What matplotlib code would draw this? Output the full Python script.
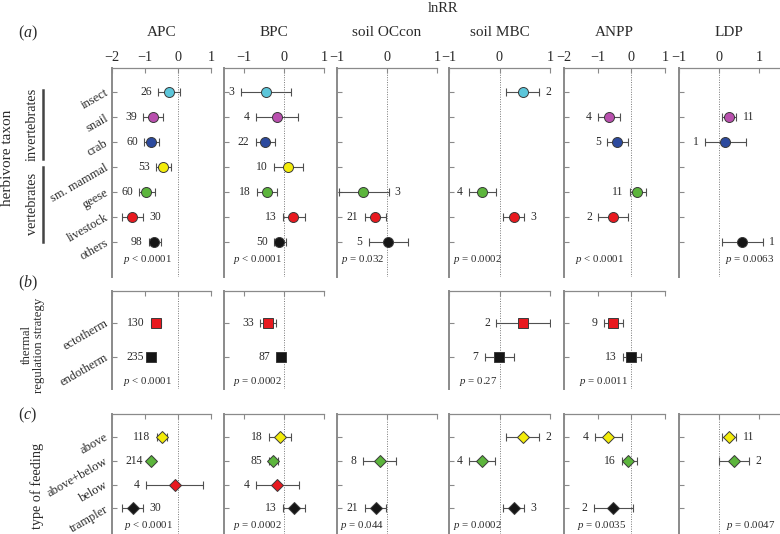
import matplotlib
matplotlib.use('Agg')
import matplotlib.pyplot as plt
from matplotlib.lines import Line2D

plt.rcParams['font.family'] = ['Liberation Serif', 'DejaVu Serif']
plt.rcParams['mathtext.fontset'] = 'custom'
plt.rcParams['mathtext.it'] = 'Liberation Serif:italic'
plt.rcParams['mathtext.rm'] = 'Liberation Serif'

# ---------------- data ----------------
responses = ['APC', 'BPC', 'soil OCcon', 'soil MBC', 'ANPP', 'LDP']
xlims = [(-2, 1), (-1.5, 1), (-1, 1), (-1, 1), (-2, 1), (-1, 1.5)]
xticks = [[-2, -1, 0, 1], [-1, 0, 1], [-1, 0, 1], [-1, 0, 1], [-2, -1, 0, 1], [-1, 0, 1]]

taxa = ['insect', 'snail', 'crab', 'sm. mammal', 'geese', 'livestock', 'others']
taxa_colors = ['#5cc6da', '#b94fae', '#2c4a9e', '#f3ec0a', '#5cb53c', '#e8191f', '#151515']
thermal = ['ectotherm', 'endotherm']
thermal_colors = ['#e8191f', '#151515']
feeding = ['above', 'above+below', 'below', 'trampler']
feeding_colors = ['#f3ec0a', '#5cb53c', '#e8191f', '#151515']

# (mean, lower CI, upper CI, n)
apc_taxon = [(-0.28, -0.61, 0.05, 26), (-0.76, -1.05, -0.46, 39), (-0.83, -1.02, -0.59, 60),
             (-0.44, -0.66, -0.21, 53), (-0.96, -1.17, -0.71, 60), (-1.39, -1.69, -1.07, 30),
             (-0.72, -0.89, -0.53, 98)]
bpc_taxon = [(-0.46, -1.08, 0.17, 3), (-0.18, -0.71, 0.36, 4), (-0.48, -0.71, -0.22, 22),
             (0.11, -0.25, 0.48, 10), (-0.43, -0.68, -0.18, 18), (0.23, -0.03, 0.53, 13),
             (-0.12, -0.25, 0.05, 50)]
occ_taxon = [None, None, None, None, (-0.48, -0.97, 0.03, 3), (-0.25, -0.45, -0.02, 21),
             (0.02, -0.37, 0.42, 5)]
mbc_taxon = [(0.46, 0.13, 0.78, 2), None, None, None, (-0.34, -0.60, -0.07, 4),
             (0.28, 0.06, 0.49, 3), None]
anpp_taxon = [None, (-0.67, -0.98, -0.34, 4), (-0.42, -0.72, -0.09, 5), None,
              (0.18, -0.05, 0.43, 11), (-0.54, -0.98, -0.09, 2), None]
ldp_taxon = [None, (0.25, 0.08, 0.43, 11), (0.16, -0.36, 0.68, 1), None, None, None,
             (0.58, 0.08, 1.10, 1)]

apc_thermal = [(-0.68, -0.81, -0.53, 130), (-0.81, -0.85, -0.77, 235)]
bpc_thermal = [(-0.39, -0.60, -0.20, 33), (-0.08, -0.18, 0.03, 87)]
mbc_thermal = [(0.46, -0.07, 1.00, 2), (-0.01, -0.29, 0.28, 7)]
anpp_thermal = [(-0.54, -0.82, -0.25, 9), (0.00, -0.25, 0.28, 13)]

apc_feeding = [(-0.49, -0.64, -0.34, 118), (-0.81, -0.86, -0.76, 214),
               (-0.09, -0.96, 0.75, 4), (-1.37, -1.69, -1.07, 30)]
bpc_feeding = [(-0.10, -0.37, 0.17, 18), (-0.28, -0.38, -0.16, 85),
               (-0.18, -0.71, 0.38, 4), (0.24, -0.03, 0.53, 13)]
occ_feeding = [None, (-0.15, -0.49, 0.17, 8), None, (-0.23, -0.45, -0.02, 21)]
mbc_feeding = [(0.46, 0.13, 0.78, 2), (-0.34, -0.60, -0.08, 4), None, (0.28, 0.06, 0.49, 3)]
anpp_feeding = [(-0.69, -1.09, -0.27, 4), (-0.09, -0.29, 0.18, 16), None, (-0.55, -1.12, 0.05, 2)]
ldp_feeding = [(0.24, 0.08, 0.43, 11), (0.37, 0.00, 0.75, 2), None, None]

p_taxon = ['< 0.0001', '< 0.0001', '= 0.032', '= 0.0002', '< 0.0001', '= 0.0063']
p_thermal = ['< 0.0001', '= 0.0002', None, '= 0.27', '= 0.0011', None]
p_feeding = ['< 0.0001', '= 0.0002', '= 0.044', '= 0.0002', '= 0.0035', '= 0.0047']

taxon_data = [apc_taxon, bpc_taxon, occ_taxon, mbc_taxon, anpp_taxon, ldp_taxon]
thermal_data = [apc_thermal, bpc_thermal, None, mbc_thermal, anpp_thermal, None]
feeding_data = [apc_feeding, bpc_feeding, occ_feeding, mbc_feeding, anpp_feeding, ldp_feeding]

# ---------------- layout (pixels) ----------------
W, H = 780, 534
fig = plt.figure(figsize=(W / 100, H / 100), dpi=100)

panel_x = [(112, 211), (224, 324), (337, 437), (449, 550), (564, 665), (679, 779)]
groups = [
    dict(data=taxon_data, cats=taxa, colors=taxa_colors, marker='o', ms=7.2,
         top=68, bottom=277, ylim=(7.4, -0.97), p=p_taxon, py=259,
         px=[123, 233, 341, 453, 575, 725], first=True,
         right={(0, 5), (2, 4), (3, 0), (3, 5), (5, 1), (5, 6)}),
    dict(data=thermal_data, cats=thermal, colors=thermal_colors, marker='s', ms=6.5,
         top=291, bottom=389, ylim=(1.95, -0.94), p=p_thermal, py=381,
         px=[123, 233, None, 459, 579, None], first=False, right=set()),
    dict(data=feeding_data, cats=feeding, colors=feeding_colors, marker='D', ms=6.6,
         top=414, bottom=534, ylim=(4.07, -0.95), p=p_feeding, py=526,
         px=[124, 233, 340, 453, 577, 726], first=False,
         right={(0, 3), (3, 0), (3, 3), (5, 0), (5, 1)}),
]

spine_col = '#8a8a8a'
txt_col = '#2a2a2a'

def fx(x):
    return x / W

def fy(y):
    return 1 - y / H

for g in groups:
    for i in range(6):
        d = g['data'][i]
        if d is None:
            continue
        x0, x1 = panel_x[i]
        ax = fig.add_axes([fx(x0), fy(g['bottom']), (x1 - x0) / W, (g['bottom'] - g['top']) / H])
        ax.set_xlim(*xlims[i])
        ax.set_ylim(*g['ylim'])
        ax.patch.set_alpha(0)
        for s in ['right', 'bottom']:
            ax.spines[s].set_visible(False)
        ax.spines['left'].set_color(spine_col)
        ax.spines['left'].set_linewidth(1.4)
        ax.spines['top'].set_color(spine_col)
        ax.spines['top'].set_linewidth(0.9)
        ax.xaxis.tick_top()
        ax.set_xticks(xticks[i])
        ax.tick_params(axis='both', direction='in', length=3.5, width=0.8, color=spine_col,
                       labelcolor=txt_col)
        ax.tick_params(axis='x', labelsize=10.3, pad=3)
        if not g['first']:
            ax.set_xticklabels([])
        rows = list(range(len(g['cats'])))
        ax.set_yticks(rows)
        if i == 0:
            ax.set_yticklabels(g['cats'], rotation=30, ha='right', va='center',
                               rotation_mode='anchor', fontsize=9)
            ax.tick_params(axis='y', pad=3.5)
        else:
            ax.set_yticklabels([])
        ax.axvline(0, color='#777777', lw=0.7, ls=(0, (1, 1.5)), zorder=1)
        for r, item in enumerate(d):
            if item is None:
                continue
            m, lo, hi, n = item
            ax.errorbar([m], [r], xerr=[[m - lo], [hi - m]], fmt='none', ecolor='#505050',
                        elinewidth=0.8, capsize=2.8, capthick=0.8, zorder=2)
            ax.plot([m], [r], marker=g['marker'], ms=g['ms'], mfc=g['colors'][r],
                    mec='#3a3a3a', mew=0.7, ls='none', zorder=3)
            if (i, r) in g['right']:
                ax.annotate(str(n), (hi, r), xytext=(4.5, 0), textcoords='offset points',
                            ha='left', va='center', fontsize=8.4, color=txt_col)
            else:
                ax.annotate(str(n), (lo, r), xytext=(-4.5, 0), textcoords='offset points',
                            ha='right', va='center', fontsize=8.4, color=txt_col)
        if g['p'][i] is not None:
            fig.text(fx(g['px'][i]), fy(g['py']), '$p$ ' + g['p'][i], ha='left',
                     va='center', fontsize=7.8, color=txt_col)

# titles
for i, name in enumerate(responses):
    x0, x1 = panel_x[i]
    xc = (x0 + x1) / 2 if i < 5 else 729
    fig.text(fx(xc), fy(33), name, ha='center', va='center', fontsize=11, color=txt_col)
fig.text(fx(443), fy(8), 'lnRR', ha='center', va='center', fontsize=10.5, color=txt_col)

# panel letters
fig.text(fx(18), fy(33), '($a$)', ha='left', va='center', fontsize=11.5, color=txt_col)
fig.text(fx(18), fy(283), '($b$)', ha='left', va='center', fontsize=11.5, color=txt_col)
fig.text(fx(18), fy(415), '($c$)', ha='left', va='center', fontsize=11.5, color=txt_col)

# group labels
fig.text(fx(8), fy(158), 'herbivore taxon', rotation=90, ha='center', va='center',
         fontsize=11, color=txt_col)
fig.text(fx(32), fy(124), 'invertebrates', rotation=90, ha='center', va='center',
         fontsize=10.3, color=txt_col)
fig.text(fx(32), fy(204), 'vertebrates', rotation=90, ha='center', va='center',
         fontsize=10.3, color=txt_col)
fig.add_artist(Line2D([fx(42.5), fx(42.5)], [fy(90), fy(159)], color='#444444', lw=1.8))
fig.add_artist(Line2D([fx(42.5), fx(42.5)], [fy(167), fy(242)], color='#444444', lw=1.8))
fig.text(fx(33), fy(345), 'thermal\nregulation strategy', rotation=90, ha='center',
         va='center', fontsize=9.2, linespacing=1.1, color=txt_col)
fig.text(fx(37), fy(486), 'type of feeding', rotation=90, ha='center', va='center',
         fontsize=10.3, color=txt_col)

fig.savefig('out.png', dpi=100)
